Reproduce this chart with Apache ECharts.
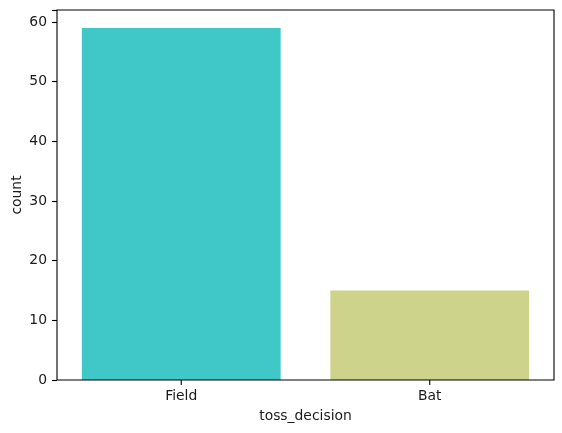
<!DOCTYPE html>
<html><head><meta charset="utf-8">
<style>html,body{margin:0;padding:0;background:#fff}#c{width:562px;height:433px}</style>
<script src="https://cdn.jsdelivr.net/npm/echarts@6/dist/echarts.min.js"></script>
</head><body><div id="c"></div>
<script>
const categories = ["Field", "Bat"];
const counts = [59, 15];
const barColors = ["#40c8c8", "#cdd38b"];
const yTicks = [0, 10, 20, 30, 40, 50, 60];
const font = "DejaVu Sans";
const fs = 13.9;
const ink = '#1a1a1a';
const chart = echarts.init(document.getElementById('c'), null, {renderer:'canvas'});
const axisLine = {show:false};
const axisTick = {show:true, length:5, lineStyle:{color:'#000', width:1.1}};
chart.setOption({
  animation:false,
  backgroundColor:'#fff',
  grid:{left:57, right:8, top:10, bottom:53, z:3, outerBoundsMode:'none', show:true, borderColor:'#000', borderWidth:1.1, backgroundColor:'transparent'},
  xAxis:{type:'category', data:categories, name:'toss_decision', nameLocation:'middle', nameGap:29, nameMoveOverlap:false,
    nameTextStyle:{fontFamily:font,fontSize:fs,color:ink},
    axisLine, axisTick:{show:false},
    axisLabel:{fontFamily:font,fontSize:fs,color:ink,margin:9,interval:0}, splitLine:{show:false}},
  yAxis:{type:'value', min:0, max:62, interval:10, name:'count', nameLocation:'middle', nameGap:33, nameMoveOverlap:false,
    nameTextStyle:{fontFamily:font,fontSize:fs,color:ink},
    axisLine, axisTick,
    axisLabel:{fontFamily:font,fontSize:fs,color:ink,margin:10,
      formatter:v=>yTicks.includes(v)?String(v):''}, splitLine:{show:false}},
  series:[
    {type:'bar', barWidth:'80%', data:counts.map((v,i)=>({value:v,itemStyle:{color:barColors[i]}}))}
  ]
});
chart.setOption({
  graphic: categories.map((c,i)=>{
    const p = chart.convertToPixel({xAxisIndex:0,yAxisIndex:0},[i,0]);
    return {type:'line', z:100, silent:true,
      shape:{x1:p[0],y1:p[1],x2:p[0],y2:p[1]+5},
      style:{stroke:'#000',lineWidth:1.1}};
  })
});
</script></body></html>
